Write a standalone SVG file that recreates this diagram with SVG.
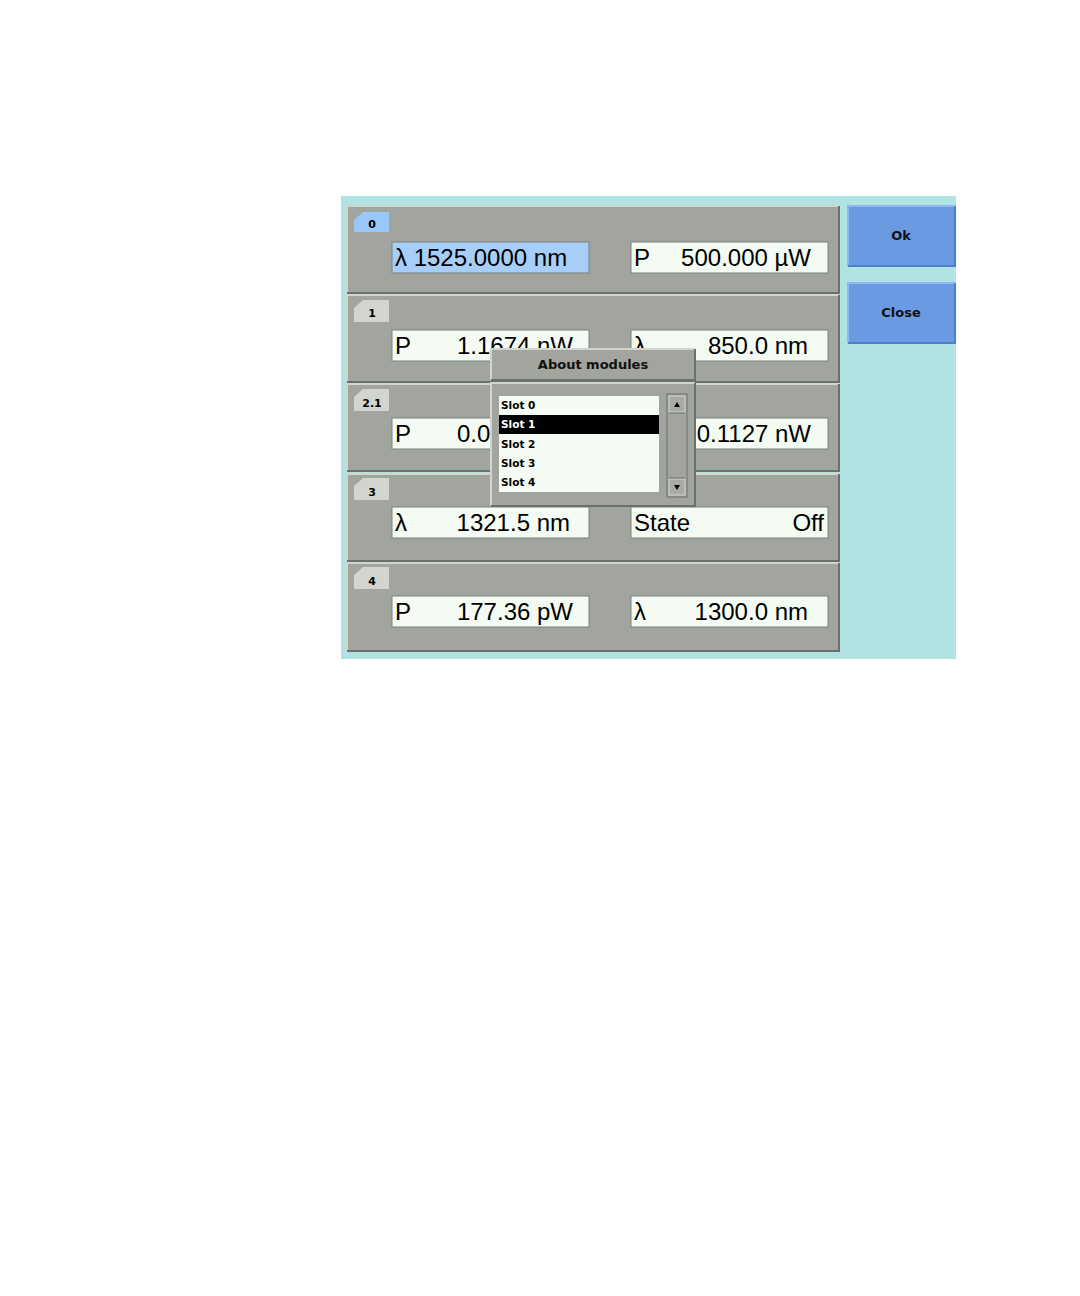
<svg xmlns="http://www.w3.org/2000/svg" width="1080" height="1296" viewBox="0 0 1080 1296">
<style>
.row{fill:#a2a59e;stroke:none}
.hl{stroke:#d2d5cf;stroke-width:2;fill:none}
.sh{stroke:#6c706a;stroke-width:2;fill:none}
.fld{fill:#f3fbf2;stroke:#7d817a;stroke-width:1}
.big{font-family:"Liberation Sans",Arial,sans-serif;font-size:24px;fill:#000}
.tab{font-family:"DejaVu Sans",sans-serif;font-size:11px;font-weight:bold;fill:#000;text-anchor:middle}
.btn{font-family:"DejaVu Sans",sans-serif;font-size:13px;font-weight:bold;fill:#111;text-anchor:middle}
.slot{font-family:"DejaVu Sans",sans-serif;font-size:10.5px;font-weight:bold;fill:#000}
</style>
<rect x="0" y="0" width="1080" height="1296" fill="#ffffff"/>
<rect x="341" y="196" width="615" height="463" fill="#b2e3e3"/>

<g id="row0">
<rect class="row" x="347" y="206" width="492" height="87"/>
<polyline class="hl" points="347,293 347,206 839,206"/>
<polyline class="sh" points="839,206 839,293 347,293"/>
<polygon points="363,212 389,212 389,232 354,232 354,220" fill="#99c7f7"/>
<text class="tab" x="372" y="228">0</text>
<rect x="392" y="242" width="197" height="31" fill="#a7cef9" stroke="#7d817a"/>
<text class="big" x="395" y="266">λ 1525.0000 nm</text>
<rect class="fld" x="631" y="242" width="197" height="31"/>
<text class="big" x="634" y="266">P</text>
<text class="big" x="811" y="266" text-anchor="end">500.000 µW</text>
</g>

<g id="row1">
<rect class="row" x="347" y="295" width="492" height="87"/>
<polyline class="hl" points="347,382 347,295 839,295"/>
<polyline class="sh" points="839,295 839,382 347,382"/>
<polygon points="363,300 389,300 389,322 354,322 354,308" fill="#d2d4ce"/>
<text class="tab" x="372" y="317">1</text>
<rect class="fld" x="392" y="330" width="197" height="31"/>
<text class="big" x="395" y="354">P</text>
<text class="big" x="573" y="354" text-anchor="end">1.1674 nW</text>
<rect class="fld" x="631" y="330" width="197" height="31"/>
<text class="big" x="634" y="354">λ</text>
<text class="big" x="808" y="354" text-anchor="end">850.0 nm</text>
</g>

<g id="row2">
<rect class="row" x="347" y="384" width="492" height="87"/>
<polyline class="hl" points="347,471 347,384 839,384"/>
<polyline class="sh" points="839,384 839,471 347,471"/>
<polygon points="363,389 389,389 389,411 354,411 354,397" fill="#d2d4ce"/>
<text class="tab" x="372" y="407">2.1</text>
<rect class="fld" x="392" y="418" width="197" height="31"/>
<text class="big" x="395" y="442">P</text>
<text class="big" x="573" y="442" text-anchor="end">0.0000 nW</text>
<rect class="fld" x="631" y="418" width="197" height="31"/>
<text class="big" x="634" y="442">P</text>
<text class="big" x="811" y="442" text-anchor="end">0.1127 nW</text>
</g>

<g id="row3">
<rect class="row" x="347" y="474" width="492" height="87"/>
<polyline class="hl" points="347,561 347,474 839,474"/>
<polyline class="sh" points="839,474 839,561 347,561"/>
<polygon points="363,478 389,478 389,500 354,500 354,486" fill="#d2d4ce"/>
<text class="tab" x="372" y="496">3</text>
<rect class="fld" x="392" y="507" width="197" height="31"/>
<text class="big" x="395" y="531">λ</text>
<text class="big" x="570" y="531" text-anchor="end">1321.5 nm</text>
<rect class="fld" x="631" y="507" width="197" height="31"/>
<text class="big" x="634" y="531">State</text>
<text class="big" x="824" y="531" text-anchor="end">Off</text>
</g>

<g id="row4">
<rect class="row" x="347" y="563" width="492" height="88"/>
<polyline class="hl" points="347,651 347,563 839,563"/>
<polyline class="sh" points="839,563 839,651 347,651"/>
<polygon points="363,567 389,567 389,589 354,589 354,575" fill="#d2d4ce"/>
<text class="tab" x="372" y="585">4</text>
<rect class="fld" x="392" y="596" width="197" height="31"/>
<text class="big" x="395" y="620">P</text>
<text class="big" x="573" y="620" text-anchor="end">177.36 pW</text>
<rect class="fld" x="631" y="596" width="197" height="31"/>
<text class="big" x="634" y="620">λ</text>
<text class="big" x="808" y="620" text-anchor="end">1300.0 nm</text>
</g>

<g id="ok">
<rect x="848" y="206" width="107" height="60" fill="#6a9be2"/>
<polyline points="848,266 848,206 955,206" fill="none" stroke="#8fb7f2" stroke-width="2"/>
<polyline points="955,206 955,266 848,266" fill="none" stroke="#4f7fc8" stroke-width="2"/>
<text class="btn" x="901" y="240">Ok</text>
</g>
<g id="close">
<rect x="848" y="283" width="107" height="60" fill="#6a9be2"/>
<polyline points="848,343 848,283 955,283" fill="none" stroke="#8fb7f2" stroke-width="2"/>
<polyline points="955,283 955,343 848,343" fill="none" stroke="#4f7fc8" stroke-width="2"/>
<text class="btn" x="901" y="317">Close</text>
</g>

<g id="popup">
<rect x="491" y="349" width="204" height="31" fill="#a2a59e"/>
<polyline class="hl" points="491,380 491,349 695,349"/>
<polyline class="sh" points="695,349 695,380 491,380"/>
<text class="btn" x="593" y="369">About modules</text>
<rect x="491" y="383" width="204" height="123" fill="#a2a59e"/>
<polyline class="hl" points="491,506 491,383 695,383"/>
<polyline class="sh" points="695,383 695,506 491,506"/>
<rect x="499" y="396" width="160" height="96" fill="#f3fbf2"/>
<rect x="499" y="415" width="160" height="19" fill="#000"/>
<text class="slot" x="501" y="409">Slot 0</text>
<text class="slot" x="501" y="428" style="fill:#fff">Slot 1</text>
<text class="slot" x="501" y="448">Slot 2</text>
<text class="slot" x="501" y="467">Slot 3</text>
<text class="slot" x="501" y="486">Slot 4</text>
<rect x="667" y="394" width="20" height="103" fill="#a2a59e" stroke="#6c706a" stroke-width="1"/>
<rect x="669" y="396" width="16" height="16" fill="#a8aba4" stroke="#d2d5cf" stroke-width="1"/>
<rect x="669" y="479" width="16" height="16" fill="#a8aba4" stroke="#d2d5cf" stroke-width="1"/>
<line x1="669" y1="413" x2="685" y2="413" stroke="#6c706a"/>
<line x1="669" y1="478" x2="685" y2="478" stroke="#6c706a"/>
<polygon points="674,407 680,407 677,402" fill="#000"/>
<polygon points="674,485 680,485 677,490" fill="#000"/>
</g>
</svg>
